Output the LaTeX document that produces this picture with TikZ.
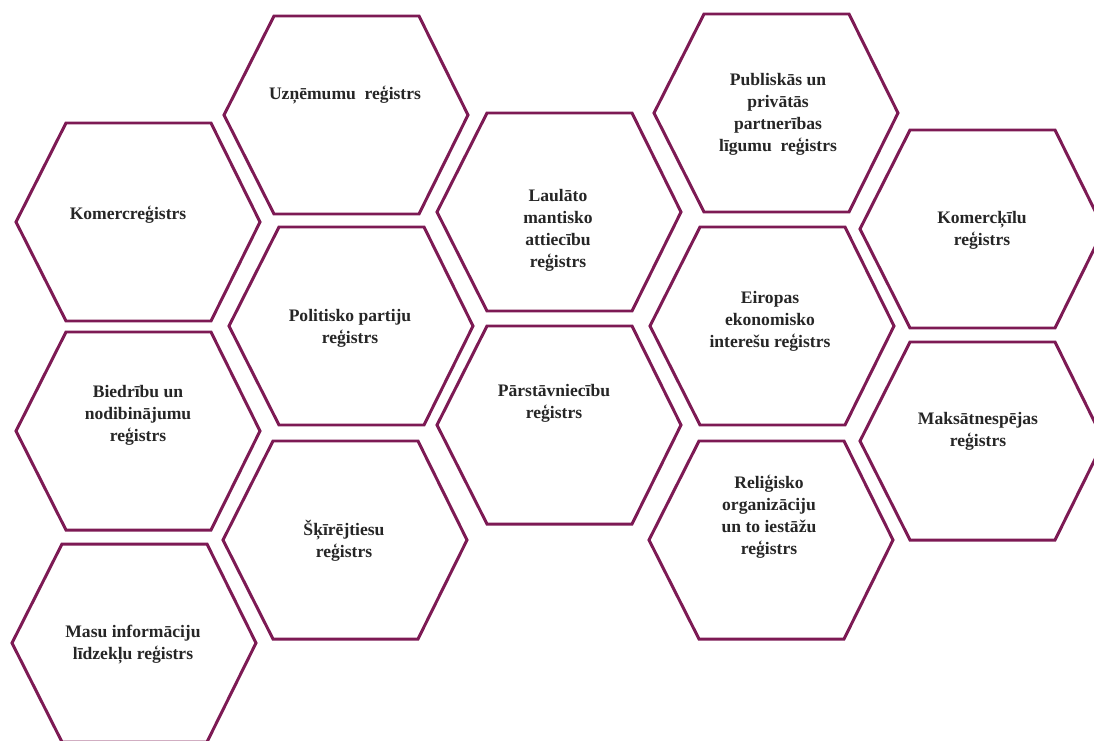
\documentclass[tikz,border=0pt]{standalone}
\usepackage{fontspec}
\setmainfont{Liberation Serif}
\usepackage{xcolor}
\usepackage{tikz}
\definecolor{hexplum}{HTML}{7D1A54}

\begin{document}
\begin{tikzpicture}[x=0.02cm,y=-0.02cm,
    hexline/.style={draw=hexplum,line width=1.7pt,line join=miter,fill=white},
    regtext/.style={font=\fontsize{10}{12.5}\selectfont\bfseries,align=center,text=black!85}]
  \useasboundingbox (0,0) rectangle (1094,740);
  % left column
  \draw[hexline] (16,222)  -- ++(50,-99) -- ++(145,0) -- ++(49,99) -- ++(-49,99) -- ++(-145,0) -- cycle;
  \draw[hexline] (16,431)  -- ++(50,-99) -- ++(145,0) -- ++(49,99) -- ++(-49,99) -- ++(-145,0) -- cycle;
  \draw[hexline] (12,643)  -- ++(50,-99) -- ++(145,0) -- ++(49,99) -- ++(-49,99) -- ++(-145,0) -- cycle;
  % second column
  \draw[hexline] (224,115) -- ++(50,-99) -- ++(145,0) -- ++(49,99) -- ++(-49,99) -- ++(-145,0) -- cycle;
  \draw[hexline] (229,326) -- ++(50,-99) -- ++(145,0) -- ++(49,99) -- ++(-49,99) -- ++(-145,0) -- cycle;
  \draw[hexline] (223,540) -- ++(50,-99) -- ++(145,0) -- ++(49,99) -- ++(-49,99) -- ++(-145,0) -- cycle;
  % middle column
  \draw[hexline] (437,212) -- ++(50,-99) -- ++(145,0) -- ++(49,99) -- ++(-49,99) -- ++(-145,0) -- cycle;
  \draw[hexline] (437,425) -- ++(50,-99) -- ++(145,0) -- ++(49,99) -- ++(-49,99) -- ++(-145,0) -- cycle;
  % fourth column
  \draw[hexline] (654,113) -- ++(50,-99) -- ++(145,0) -- ++(49,99) -- ++(-49,99) -- ++(-145,0) -- cycle;
  \draw[hexline] (650,326) -- ++(50,-99) -- ++(145,0) -- ++(49,99) -- ++(-49,99) -- ++(-145,0) -- cycle;
  \draw[hexline] (649,540) -- ++(50,-99) -- ++(145,0) -- ++(49,99) -- ++(-49,99) -- ++(-145,0) -- cycle;
  % right column
  \draw[hexline] (860,229) -- ++(50,-99) -- ++(145,0) -- ++(49,99) -- ++(-49,99) -- ++(-145,0) -- cycle;
  \draw[hexline] (860,441) -- ++(50,-99) -- ++(145,0) -- ++(49,99) -- ++(-49,99) -- ++(-145,0) -- cycle;

  \node[regtext] (komerc)   at (128,215) {Komercreģistrs};
  \node[regtext] (biedr)    at (138,415) {Biedrību un\\nodibinājumu\\reģistrs};
  \node[regtext] (masu)     at (133,645) {Masu informāciju\\līdzekļu reģistrs};
  \node[regtext] (uznem)    at (345,95)  {Uzņēmumu~ reģistrs};
  \node[regtext] (polit)    at (350,328) {Politisko partiju\\reģistrs};
  \node[regtext] (skir)     at (344,541) {Šķīrējtiesu\\reģistrs};
  \node[regtext] (laulato)  at (558,230) {Laulāto\\mantisko\\attiecību\\reģistrs};
  \node[regtext] (parst)    at (554,403) {Pārstāvniecību\\reģistrs};
  \node[regtext] (publ)     at (778,114) {Publiskās un\\privātās\\partnerības\\līgumu~ reģistrs};
  \node[regtext] (eiropas)  at (770,321) {Eiropas\\ekonomisko\\interešu reģistrs};
  \node[regtext] (relig)    at (769,517) {Reliģisko\\organizāciju\\un to iestāžu\\reģistrs};
  \node[regtext] (kkilu)    at (982,230) {Komercķīlu\\reģistrs};
  \node[regtext] (maksat)   at (978,431) {Maksātnespējas\\reģistrs};
\end{tikzpicture}
\end{document}
